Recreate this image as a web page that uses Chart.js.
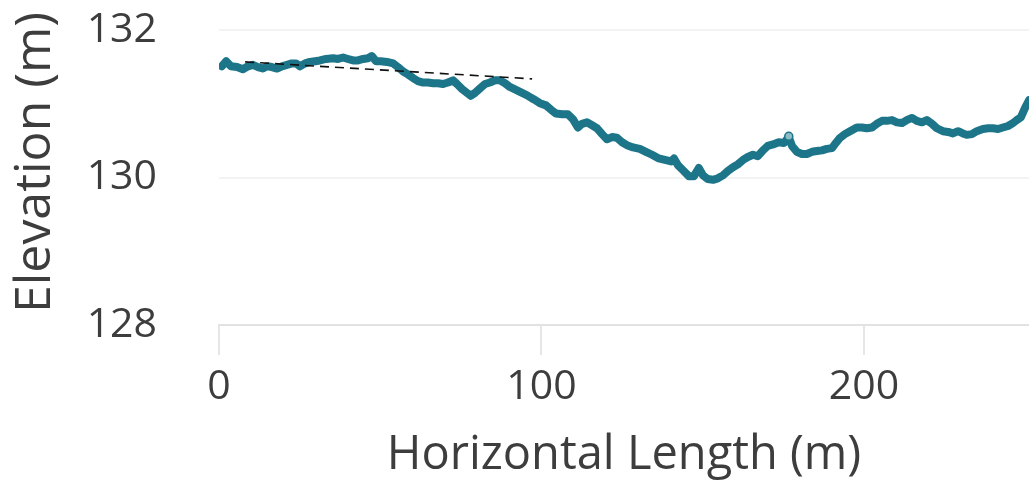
<!DOCTYPE html>
<html>
<head>
<meta charset="utf-8">
<script src="https://cdn.jsdelivr.net/npm/chart.js@4/dist/chart.umd.min.js"></script>
<style>
  html, body { margin: 0; padding: 0; background: #ffffff; }
  #profile { display: block; }
</style>
</head>
<body>
<canvas id="profile" width="1029" height="488"></canvas>
<script>
// distance along the section (m)
const distances = [
    0.9, 2.2, 3.7, 5.6, 7.4, 9.0, 10.5, 12.1, 13.6, 14.9, 16.4, 18.0, 19.5, 21.1, 22.6, 23.9,
    25.1, 26.7, 28.2, 29.8, 31.3, 33.2, 35.4, 36.9, 38.5, 40.0, 41.6, 43.1, 44.7, 46.2, 47.4, 48.7,
    50.2, 52.1, 54.0, 55.5, 57.1, 58.6, 60.2, 61.7, 63.3, 64.8, 66.4, 67.9, 69.5, 71.0, 72.6, 73.8,
    75.4, 76.9, 78.1, 79.4, 80.9, 82.5, 84.0, 85.6, 87.1, 88.7, 90.2, 92.1, 94.0, 95.8, 97.7, 99.5,
    101.4, 103.0, 104.5, 106.4, 108.2, 109.8, 111.3, 112.6, 114.1, 115.7, 117.2, 118.8, 120.3, 121.9,
    123.4, 125.0, 126.5, 128.4, 130.5, 132.4, 134.3, 136.4, 138.3, 140.2, 141.1, 142.3, 143.9, 145.7,
    147.3, 148.8, 150.1, 151.6, 153.2, 154.7, 156.3, 157.8, 159.4, 160.9, 162.5, 164.0, 165.6, 167.1,
    168.7, 170.2, 171.8, 173.6, 175.2, 176.7, 177.7, 179.2, 180.8, 182.3, 183.9, 185.4, 187.0, 188.5,
    190.1, 191.3, 192.6, 194.1, 195.7, 197.8, 199.4, 200.9, 202.5, 204.0, 205.6, 207.1, 208.7, 210.2,
    211.8, 213.3, 214.9, 216.4, 218.0, 219.5, 221.1, 222.6, 224.5, 226.1, 227.6, 229.2, 230.7, 231.9,
    233.5, 235.0, 236.9, 238.5, 240.0, 241.6, 243.1, 244.7, 246.2, 247.4, 248.7, 249.9, 251.2
];

// ground elevation (m)
const elevations = [
    131.51, 131.58, 131.51, 131.50, 131.47, 131.51, 131.53, 131.50, 131.48, 131.51, 131.50, 131.48, 131.51, 131.53, 131.55, 131.55,
    131.51, 131.55, 131.57, 131.58, 131.59, 131.61, 131.62, 131.61, 131.63, 131.61, 131.59, 131.59, 131.61, 131.62, 131.65, 131.58,
    131.58, 131.57, 131.55, 131.50, 131.44, 131.40, 131.35, 131.31, 131.29, 131.29, 131.28, 131.28, 131.27, 131.29, 131.32, 131.27,
    131.20, 131.15, 131.11, 131.15, 131.21, 131.27, 131.29, 131.32, 131.32, 131.28, 131.23, 131.19, 131.15, 131.11, 131.06, 131.01,
    130.98, 130.92, 130.87, 130.86, 130.86, 130.79, 130.68, 130.73, 130.75, 130.71, 130.67, 130.59, 130.52, 130.55,
    130.54, 130.48, 130.44, 130.41, 130.39, 130.35, 130.31, 130.26, 130.24, 130.22, 130.26, 130.17, 130.10, 130.02,
    130.02, 130.13, 130.03, 129.98, 129.97, 129.99, 130.03, 130.09, 130.14, 130.18, 130.24, 130.28, 130.31, 130.29,
    130.37, 130.43, 130.45, 130.48, 130.47, 130.55, 130.43, 130.35, 130.32, 130.32, 130.35, 130.36, 130.37, 130.39,
    130.40, 130.47, 130.54, 130.59, 130.63, 130.68, 130.68, 130.67, 130.68, 130.73, 130.77, 130.77, 130.78, 130.75,
    130.74, 130.78, 130.81, 130.77, 130.75, 130.78, 130.73, 130.67, 130.63, 130.62, 130.60, 130.63, 130.60, 130.58,
    130.59, 130.63, 130.66, 130.67, 130.67, 130.66, 130.68, 130.70, 130.74, 130.78, 130.82, 130.94, 131.05
];

// dashed reference line (start, end)
const refDistances = [8.1, 97.1];
const refElevations = [131.57, 131.34];

// small survey marker
const markerDistance = [176.7];
const markerElevation = [130.56];

const xTicks = [0, 100, 200];
const yTicks = [128, 130, 132];

const TEAL = '#1c7589';
const TEXT = '#3d3d3d';
const FONT = "'Open Sans', 'Noto Sans', sans-serif";

const toPoints = (xs, ys) => xs.map((x, i) => ({ x: x, y: ys[i] }));

new Chart(document.getElementById('profile'), {
    type: 'line',
    data: {
        datasets: [
            {
                data: toPoints(markerDistance, markerElevation),
                showLine: false,
                pointRadius: 4,
                pointBackgroundColor: '#8dbcc6',
                pointBorderColor: TEAL,
                pointBorderWidth: 1.5,
                order: 0,
            },
            {
                data: toPoints(refDistances, refElevations),
                borderColor: '#111111',
                borderWidth: 1.6,
                borderDash: [9, 6],
                pointRadius: 0,
                fill: false,
                order: 1,
            },
            {
                data: toPoints(distances, elevations),
                borderColor: TEAL,
                borderWidth: 8,
                borderJoinStyle: 'round',
                borderCapStyle: 'round',
                pointRadius: 0,
                tension: 0,
                fill: false,
                order: 2,
            },
        ],
    },
    options: {
        responsive: false,
        animation: false,
        layout: { padding: 0, autoPadding: false },
        plugins: {
            legend: { display: false },
            tooltip: { enabled: false },
        },
        scales: {
            x: {
                type: 'linear',
                min: 0,
                max: 251.2,
                afterBuildTicks: s => { s.ticks = xTicks.map(v => ({ value: v })); },
                // pin the plot area to the reference's frame
                afterFit: s => { s.height = 163; s.paddingLeft = 0; s.paddingRight = 0; },
                border: { display: true, color: '#e2e2e2', width: 2 },
                grid: {
                    drawOnChartArea: false,
                    drawTicks: true,
                    tickLength: 30,
                    color: '#e6e6e6',
                    lineWidth: 2,
                },
                ticks: {
                    padding: 8,
                    maxRotation: 0,
                    color: TEXT,
                    font: { family: FONT, size: 41 },
                },
                title: {
                    display: true,
                    text: 'Horizontal Length (m)',
                    color: TEXT,
                    font: { family: FONT, size: 47 },
                    padding: { top: 0, bottom: 4 },
                },
            },
            y: {
                type: 'linear',
                min: 128,
                max: 132.41,
                afterBuildTicks: s => { s.ticks = yTicks.map(v => ({ value: v })); },
                afterFit: s => { s.width = 219; s.paddingTop = 0; s.paddingBottom = 0; },
                border: { display: false },
                grid: {
                    drawTicks: false,
                    color: '#f3f3f3',
                    lineWidth: 2,
                },
                ticks: {
                    padding: 62,
                    color: TEXT,
                    font: { family: FONT, size: 41 },
                },
                title: {
                    display: true,
                    text: 'Elevation (m)',
                    color: TEXT,
                    font: { family: FONT, size: 50 },
                    padding: { top: 6, bottom: 0 },
                },
            },
        },
    },
});
</script>
</body>
</html>
